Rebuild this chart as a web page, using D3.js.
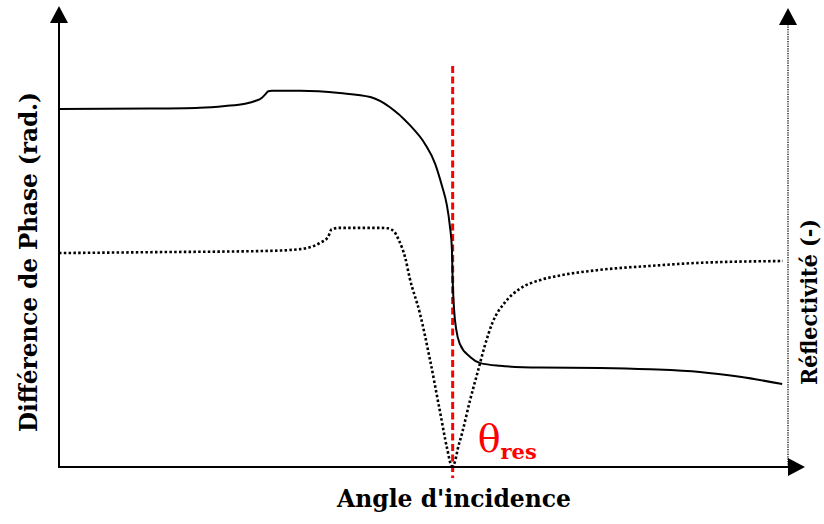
<!DOCTYPE html>
<html>
<head>
<meta charset="utf-8">
<script src="https://cdnjs.cloudflare.com/ajax/libs/d3/7.8.5/d3.min.js"></script>
<style>
  body { margin: 0; background: #fff; }
  .lbl { font-family: "DejaVu Serif Condensed", "DejaVu Serif", serif; font-weight: bold; fill: #000; }
</style>
</head>
<body>
<div id="chart"></div>
<script>
// svg container
var svgWidth = 824;
var svgHeight = 524;

var margin = { top: 25, right: 36, bottom: 57, left: 59 };
var width = svgWidth - margin.left - margin.right;
var height = svgHeight - margin.top - margin.bottom;

// phase difference (solid) : angle / value in arbitrary units
var phaseX = [0, 12.5, 19.3, 22.8, 25.5, 26.9, 27.8, 28.3, 28.7, 29.2, 33.1, 38.5, 42.7, 45.4, 48.1, 50.2, 51.6,
  52.5, 53.2, 53.6, 53.9, 54.0, 54.2, 54.5, 55.0, 56.4, 57.8, 60.5, 66.0, 74.2, 81.1, 87.9, 93.4, 99.2];
var phaseY = [81.0, 81.1, 81.3, 81.7, 82.2, 82.8, 83.5, 84.3, 85.0, 85.1, 85.1, 84.6, 83.7, 81.4, 77.4, 73.1, 68.6,
  63.8, 59.3, 54.8, 49.1, 42.3, 35.5, 31.0, 27.8, 24.9, 23.5, 22.9, 22.5, 22.4, 22.1, 21.5, 20.4, 18.8];

// reflectivity (dotted)
var reflX = [0, 12.5, 28.9, 33.1, 35.8, 36.9, 37.4, 38.5, 44.0, 45.1, 46.0, 46.6, 47.5, 48.1, 49.5,
  50.9, 52.3, 53.2, 53.9, 54.3, 54.7, 55.3, 56.4, 57.5, 58.4, 59.5, 61.2, 63.2, 66.0, 68.3, 74.2,
  81.1, 87.9, 99.3];
var reflY = [48.4, 48.6, 48.9, 49.3, 50.7, 52.0, 53.8, 54.1, 54.1, 54.0, 53.2, 51.4, 47.3, 42.8, 34.8,
  24.2, 12.2, 4.5, 0.2, 1.1, 4.1, 7.7, 15.2, 21.9, 27.4, 32.8, 37.3, 40.3, 42.3, 43.2, 44.6,
  45.5, 46.2, 46.6];

// resonance angle
var thetaRes = 54.0;

var svg = d3.select("#chart")
  .append("svg")
  .attr("width", svgWidth)
  .attr("height", svgHeight);

var chartGroup = svg.append("g")
  .attr("transform", `translate(${margin.left}, ${margin.top})`);

var xScale = d3.scaleLinear().domain([0, 100]).range([0, width]);
var yScale = d3.scaleLinear().domain([0, 100]).range([height, 0]);

var line = d3.line()
  .x(d => xScale(d[0]))
  .y(d => yScale(d[1]))
  .curve(d3.curveMonotoneX);

var phaseData = phaseX.map((x, i) => [x, phaseY[i]]);
var reflData = reflX.map((x, i) => [x, reflY[i]]);

// red dashed resonance line
chartGroup.append("line")
  .attr("x1", xScale(thetaRes))
  .attr("x2", xScale(thetaRes))
  .attr("y1", yScale(90.7))
  .attr("y2", yScale(-2.5))
  .attr("stroke", "#ff0000")
  .attr("stroke-width", 3)
  .attr("stroke-dasharray", "7,3.5");

// curves
chartGroup.append("path")
  .datum(reflData)
  .attr("d", line)
  .attr("fill", "none")
  .attr("stroke", "#000")
  .attr("stroke-width", 2.6)
  .attr("stroke-dasharray", "2.5,2.3");

chartGroup.append("path")
  .datum(phaseData)
  .attr("d", line)
  .attr("fill", "none")
  .attr("stroke", "#000")
  .attr("stroke-width", 2);

// axes (plain lines with arrow heads)
var axisColor = "#000";
chartGroup.append("line")
  .attr("x1", 0).attr("x2", 0)
  .attr("y1", height + 1).attr("y2", -2)
  .attr("stroke", axisColor).attr("stroke-width", 2);
chartGroup.append("line")
  .attr("x1", 0).attr("x2", width)
  .attr("y1", height).attr("y2", height)
  .attr("stroke", axisColor).attr("stroke-width", 2);
chartGroup.append("line")
  .attr("x1", width).attr("x2", width)
  .attr("y1", height).attr("y2", 0)
  .attr("stroke", axisColor).attr("stroke-width", 1.3)
  .attr("stroke-dasharray", "1.2,1.2");

function arrowUp(x, y) {
  chartGroup.append("path")
    .attr("d", `M${x - 9},${y} L${x + 9},${y} L${x},${y - 17} Z`)
    .attr("fill", "#000");
}
arrowUp(0, -2);
arrowUp(width, 0);
chartGroup.append("path")
  .attr("d", `M${width},${height - 9} L${width},${height + 9} L${width + 17},${height} Z`)
  .attr("fill", "#000");

// labels
svg.append("text")
  .attr("class", "lbl")
  .attr("x", 454)
  .attr("y", 507)
  .attr("text-anchor", "middle")
  .attr("font-size", 24)
  .attr("textLength", 234)
  .attr("lengthAdjust", "spacingAndGlyphs")
  .text("Angle d'incidence");

svg.append("text")
  .attr("class", "lbl")
  .attr("transform", "translate(37, 262) rotate(-90)")
  .attr("text-anchor", "middle")
  .attr("font-size", 24)
  .attr("textLength", 340)
  .attr("lengthAdjust", "spacingAndGlyphs")
  .text("Différence de Phase (rad.)");

svg.append("text")
  .attr("class", "lbl")
  .attr("transform", "translate(817, 302) rotate(-90)")
  .attr("text-anchor", "middle")
  .attr("font-size", 22)
  .attr("textLength", 166)
  .attr("lengthAdjust", "spacingAndGlyphs")
  .text("Réflectivité (-)");

// theta res label
var thetaLabel = chartGroup.append("text")
  .attr("x", xScale(thetaRes) + 25)
  .attr("y", yScale(0) - 15)
  .attr("fill", "#ff0000")
  .attr("font-family", "DejaVu Serif, serif");
thetaLabel.append("tspan")
  .attr("font-size", 38)
  .text("θ");
thetaLabel.append("tspan")
  .attr("font-size", 21)
  .attr("font-weight", "bold")
  .attr("dy", 7)
  .text("res");
</script>
</body>
</html>
